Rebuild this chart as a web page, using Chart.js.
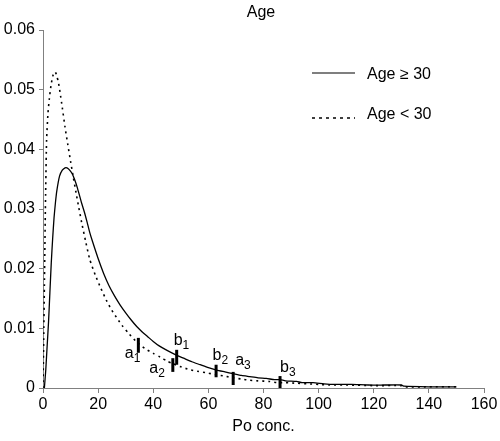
<!DOCTYPE html>
<html>
<head>
<meta charset="utf-8">
<script src="https://cdn.jsdelivr.net/npm/chart.js@4/dist/chart.umd.min.js"></script>
<style>
  body { margin: 0; background: #fff; }
  canvas { display: block; }
</style>
</head>
<body>
<canvas id="ageChart" width="500" height="441"></canvas>
<script>
// Age >= 30 (solid curve)
const oldX = [0.5, 1, 1.5, 2, 2.5, 3, 3.5, 4, 4.5, 5, 6, 7, 8, 8.7, 9.5, 10.5, 11.5, 12.5, 14, 15, 16, 17, 18, 20, 22, 24, 26, 28, 30, 32, 34, 36, 38, 40, 42, 45, 48, 51, 54, 57, 60, 63, 66, 69, 72, 75, 78, 81, 84, 86, 88, 92, 94, 98, 102, 106, 112, 118, 124, 130, 131, 140, 150];
const oldY = [0, 0.003, 0.007, 0.011, 0.016, 0.021, 0.025, 0.0285, 0.031, 0.033, 0.0355, 0.0365, 0.0369, 0.0369, 0.0366, 0.036, 0.0349, 0.0335, 0.031, 0.0295, 0.0278, 0.026, 0.0245, 0.0217, 0.0192, 0.0171, 0.0154, 0.0139, 0.0126, 0.0114, 0.0103, 0.0094, 0.0086, 0.0078, 0.0071, 0.0063, 0.0056, 0.005, 0.0044, 0.0039, 0.0034, 0.003, 0.0027, 0.0024, 0.0021, 0.0019, 0.0017, 0.0016, 0.0014, 0.0014, 0.0012, 0.0011, 0.0009, 0.0009, 0.0007, 0.0006, 0.0006, 0.0005, 0.0005, 0.0005, 0.0003, 0.0002, 0.0002];

// Age < 30 (dotted curve)
const youngX = [0, 0.25, 0.5, 0.8, 1, 1.3, 1.8, 2.3, 3, 3.7, 4.4, 5, 5.6, 6.2, 7, 8, 9, 10, 11, 12, 13, 14, 15.6, 17, 19, 21, 23, 25, 27, 29, 31, 34, 37, 40, 42.5, 45, 47, 49.7, 53, 56, 60, 63, 66, 69, 72, 75, 78, 82, 85, 88, 92, 96, 100, 104, 110, 120, 130, 131, 140, 150];
const youngY = [0, 0.008, 0.017, 0.028, 0.034, 0.0415, 0.046, 0.0485, 0.051, 0.0525, 0.053, 0.0523, 0.0512, 0.0495, 0.047, 0.0437, 0.0408, 0.038, 0.0353, 0.0327, 0.0302, 0.0278, 0.0243, 0.0215, 0.0189, 0.0167, 0.0147, 0.013, 0.0116, 0.0103, 0.0092, 0.0077, 0.0066, 0.0058, 0.0052, 0.0045, 0.0041, 0.0036, 0.0031, 0.0028, 0.0025, 0.0022, 0.002, 0.0017, 0.0015, 0.0013, 0.0012, 0.0011, 0.0009, 0.0009, 0.0008, 0.0007, 0.0006, 0.0005, 0.0005, 0.0004, 0.0004, 0.0002, 0.0002, 0.0002];

// short vertical markers a1..b3
const markerNames = ["a1", "b1", "a2", "b2", "a3", "b3"];
const markerX = [34.6, 48.5, 47.1, 62.8, 69, 86];
const markerLow = [0.0059, 0.0039, 0.0027, 0.0018, 0.0005, 0];
const markerHigh = [0.0084, 0.0064, 0.005, 0.0039, 0.0027, 0.002];

const xTicks = [0, 20, 40, 60, 80, 100, 120, 140, 160];
const yTicks = [0, 0.01, 0.02, 0.03, 0.04, 0.05, 0.06];

// label placement relative to marker top (px)
const labelOffsets = {
  a1: [-13.5, 20], b1: [-3, -5], a2: [-23.5, 15],
  b2: [-3.5, -5], a3: [2, -7], b3: [0, -4]
};

const FONT = "'Liberation Sans', Arial, sans-serif";
const AXIS_GRAY = "#808080";

function toPoints(xs, ys) {
  return xs.map((x, i) => ({ x: x, y: ys[i] }));
}

// Draws markers, their labels, title and legend
const extrasPlugin = {
  id: "extras",
  afterDatasetsDraw(chart) {
    const ctx = chart.ctx;
    const xs = chart.scales.x, ys = chart.scales.y;
    ctx.save();
    ctx.strokeStyle = "#000";
    ctx.fillStyle = "#000";
    ctx.lineWidth = 3;
    markerNames.forEach((name, i) => {
      const px = xs.getPixelForValue(markerX[i]);
      const top = ys.getPixelForValue(markerHigh[i]);
      const bot = ys.getPixelForValue(markerLow[i]);
      ctx.beginPath();
      ctx.moveTo(px, top);
      ctx.lineTo(px, bot);
      ctx.stroke();

      const off = labelOffsets[name];
      const lx = px + off[0], ly = top + off[1];
      ctx.textBaseline = "alphabetic";
      ctx.textAlign = "left";
      ctx.font = "16px " + FONT;
      ctx.fillText(name[0], lx, ly);
      const w = ctx.measureText(name[0]).width;
      ctx.font = "12px " + FONT;
      ctx.fillText(name[1], lx + w, ly + 4);
    });

    // title
    ctx.font = "16px " + FONT;
    ctx.textAlign = "center";
    ctx.fillText("Age", 261, 17);

    // legend
    ctx.lineWidth = 1.2;
    ctx.beginPath();
    ctx.moveTo(312, 73);
    ctx.lineTo(355, 73);
    ctx.stroke();
    ctx.setLineDash([3, 4]);
    ctx.lineWidth = 1.5;
    ctx.beginPath();
    ctx.moveTo(312, 118);
    ctx.lineTo(355, 118);
    ctx.stroke();
    ctx.setLineDash([]);
    ctx.font = "16px " + FONT;
    ctx.textAlign = "left";
    ctx.fillText("Age \u2265 30", 367, 79);
    ctx.fillText("Age < 30", 367, 119);
    ctx.restore();
  }
};

const ctx = document.getElementById("ageChart").getContext("2d");
const chart = new Chart(ctx, {
  type: "line",
  data: {
    datasets: [
      {
        label: "Age \u2265 30",
        data: toPoints(oldX, oldY),
        borderColor: "#000",
        borderWidth: 1.3,
        pointRadius: 0,
        tension: 0.2,
        fill: false
      },
      {
        label: "Age < 30",
        data: toPoints(youngX, youngY),
        borderColor: "#000",
        borderWidth: 1.6,
        borderDash: [2, 4],
        pointRadius: 0,
        tension: 0.2,
        fill: false
      }
    ]
  },
  options: {
    responsive: false,
    animation: false,
    devicePixelRatio: 1,
    layout: { padding: { top: 30, right: 16, left: 0, bottom: 0 } },
    plugins: {
      legend: { display: false },
      title: { display: false },
      tooltip: { enabled: false }
    },
    scales: {
      x: {
        type: "linear",
        min: 0,
        max: 160,
        afterBuildTicks: (scale) => { scale.ticks = xTicks.map(v => ({ value: v })); },
        afterFit: (scale) => { scale.height = 53; },
        grid: { display: true, drawOnChartArea: false, drawTicks: true, tickLength: 5, color: AXIS_GRAY },
        border: { display: true, color: AXIS_GRAY, width: 1 },
        ticks: { color: "#000", font: { family: FONT, size: 16 }, padding: 2, maxRotation: 0 },
        title: { display: true, text: "Po conc.", color: "#000", font: { family: FONT, size: 16 }, padding: { top: 2, bottom: 5 } }
      },
      y: {
        min: 0,
        max: 0.06,
        afterBuildTicks: (scale) => { scale.ticks = yTicks.map(v => ({ value: v })); },
        afterFit: (scale) => { scale.width = 43; },
        grid: { display: true, drawOnChartArea: false, drawTicks: true, tickLength: 4, color: AXIS_GRAY },
        border: { display: true, color: AXIS_GRAY, width: 1 },
        ticks: {
          color: "#000",
          font: { family: FONT, size: 16 },
          padding: 4,
          callback: (v) => String(v)
        }
      }
    }
  },
  plugins: [extrasPlugin]
});
</script>
</body>
</html>
